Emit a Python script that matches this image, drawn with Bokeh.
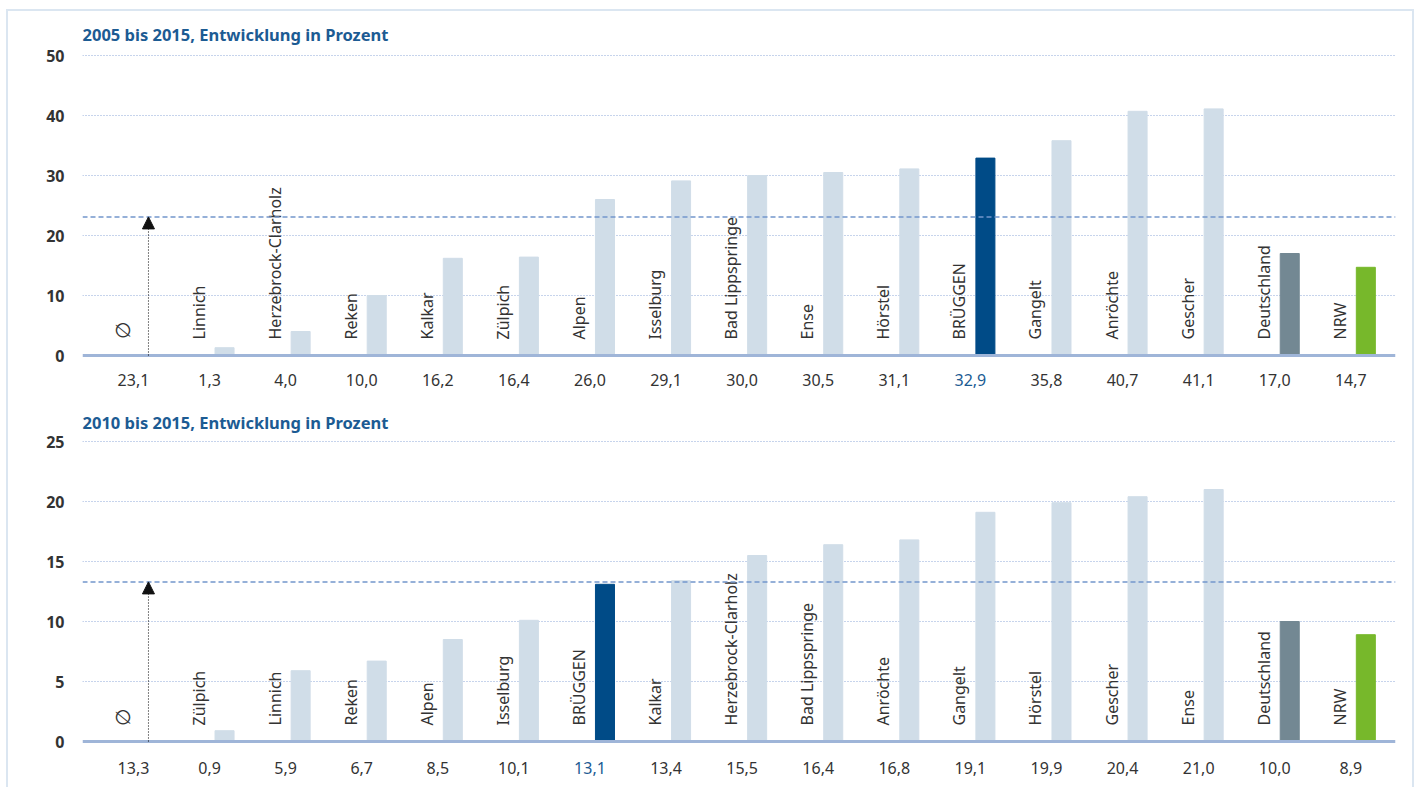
from bokeh.plotting import figure
from bokeh.models import (ColumnDataSource, Range1d, FixedTicker, Span, Arrow,
                          NormalHead)
from bokeh.layouts import column
from bokeh.embed import file_html
from bokeh.resources import INLINE
from bokeh.core.properties import value

# ---------------- data ----------------
title1 = "2005 bis 2015, Entwicklung in Prozent"
cats1 = ["\u2205", "Linnich", "Herzebrock-Clarholz", "Reken", "Kalkar", "Zülpich",
         "Alpen", "Isselburg", "Bad Lippspringe", "Ense", "Hörstel", "BRÜGGEN",
         "Gangelt", "Anröchte", "Gescher", "Deutschland", "NRW"]
vals1 = [23.1, 1.3, 4.0, 10.0, 16.2, 16.4, 26.0, 29.1, 30.0, 30.5, 31.1, 32.9,
         35.8, 40.7, 41.1, 17.0, 14.7]
ticks1 = [0, 10, 20, 30, 40, 50]

title2 = "2010 bis 2015, Entwicklung in Prozent"
cats2 = ["\u2205", "Zülpich", "Linnich", "Reken", "Alpen", "Isselburg", "BRÜGGEN",
         "Kalkar", "Herzebrock-Clarholz", "Bad Lippspringe", "Anröchte", "Gangelt",
         "Hörstel", "Gescher", "Ense", "Deutschland", "NRW"]
vals2 = [13.3, 0.9, 5.9, 6.7, 8.5, 10.1, 13.1, 13.4, 15.5, 16.4, 16.8, 19.1,
         19.9, 20.4, 21.0, 10.0, 8.9]
ticks2 = [0, 5, 10, 15, 20, 25]

# ---------------- style ----------------
FONT = "Noto Sans"
LIGHT = "#d0dde8"
SPECIAL = {"BRÜGGEN": "#004b87", "Deutschland": "#738893", "NRW": "#77b82b"}
TXT = "#333333"
BLUE_TXT = "#1c5b93"
GRID = "#8ea9d8"
AXIS = "#9fb5d8"
AVG = "#7396cc"

W = 1404


def panel(title, cats, vals, ticks, height, top_border, y_end, y_start, px_val,
          title_standoff):
    n = len(cats)
    p = figure(width=W, height=height, output_backend="svg", toolbar_location=None,
               x_range=Range1d(-0.867, 16.39), y_range=Range1d(y_start, y_end),
               x_axis_location=None, min_border_left=74, min_border_right=17,
               min_border_top=top_border, min_border_bottom=0,
               title=title)
    p.outline_line_color = None
    p.background_fill_color = "white"
    p.border_fill_color = "white"
    p.title.text_font = FONT
    p.title.text_font_size = "16.5px"
    p.title.text_font_style = "bold"
    p.title.text_color = BLUE_TXT
    p.title.align = "left"
    p.title.standoff = title_standoff

    ax = p.yaxis[0]
    ax.ticker = FixedTicker(ticks=ticks)
    ax.axis_line_color = None
    ax.major_tick_line_color = None
    ax.minor_tick_line_color = None
    ax.major_label_standoff = 12
    ax.major_label_text_font = FONT
    ax.major_label_text_font_size = "16px"
    ax.major_label_text_font_style = "bold"
    ax.major_label_text_color = TXT

    p.xgrid.visible = False
    p.ygrid.ticker = FixedTicker(ticks=ticks[1:])
    p.ygrid.grid_line_color = GRID
    p.ygrid.grid_line_dash = "1 2"
    p.ygrid.grid_line_width = 1

    avg = vals[0]
    p.add_layout(Span(location=avg, dimension="width", line_color=AVG,
                      line_dash="5 3", line_width=1.5))

    idx = list(range(n))
    colors = [SPECIAL.get(c, LIGHT) for c in cats]
    bar_src = ColumnDataSource(dict(x=idx[1:], top=vals[1:], color=colors[1:]))
    p.vbar(x="x", top="top", bottom=0, width=0.25, color="color", source=bar_src)

    p.add_layout(Span(location=0, dimension="width", line_color=AXIS, line_width=3))

    p.add_layout(Arrow(x_start=0, y_start=0, x_end=0, y_end=avg,
                       line_color="black", line_width=1, line_dash="1 2",
                       end=NormalHead(size=12, fill_color="#111111",
                                      line_color="#111111", line_width=1)))

    lab_src = ColumnDataSource(dict(
        x=idx, y=[0] * n, text=cats,
        size=["20px" if i == 0 else "16px" for i in idx],
        val=[f"{v:.1f}".replace(".", ",") for v in vals],
        vcol=[BLUE_TXT if c == "BRÜGGEN" else TXT for c in cats]))
    p.text(x="x", y="y", text="text", source=lab_src, angle=1.5708,
           x_offset=-26, y_offset=-16, text_align="left", text_baseline="middle",
           text_font=value(FONT), text_font_size="size", text_color=TXT)
    p.text(x="x", y="y", text="val", source=lab_src, x_offset=-15,
           y_offset=px_val, text_align="center", text_baseline="middle",
           text_font=value(FONT), text_font_size="16px", text_color="vcol")
    return p


p1 = panel(title1, cats1, vals1, ticks1, height=389, top_border=39,
           y_end=50 + 5 / 6, y_start=-7.5, px_val=24, title_standoff=10)
p2 = panel(title2, cats2, vals2, ticks2, height=387, top_border=36,
           y_end=25 + 5 / 12, y_start=-3.8333, px_val=26, title_standoff=6)

layout = column(p1, p2, spacing=0,
                styles={"border-top": "2px solid #dbe6f1",
                        "border-left": "2px solid #dbe6f1",
                        "border-right": "2px solid #dbe6f1",
                        "margin-left": "6px", "margin-top": "9px"})

open("out.html", "w").write(file_html(layout, INLINE))
